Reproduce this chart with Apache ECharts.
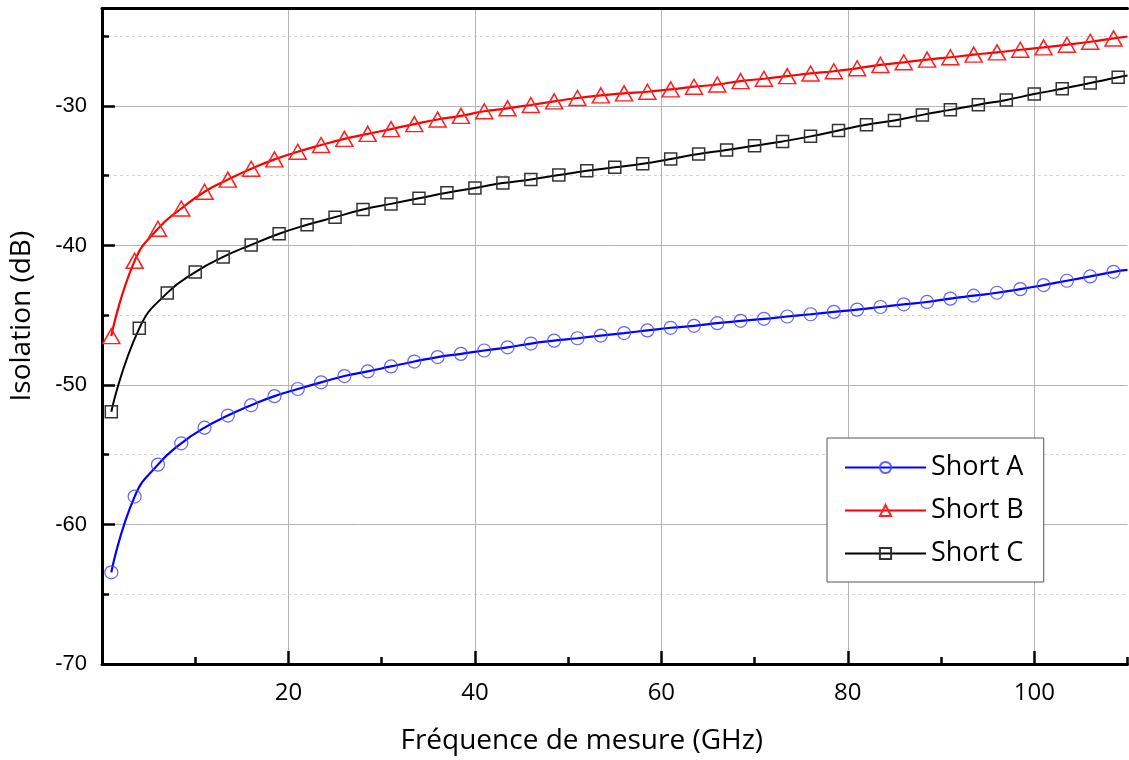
<!DOCTYPE html>
<html>
<head>
<meta charset="utf-8">
<script src="https://cdn.jsdelivr.net/npm/echarts@6/dist/echarts.min.js"></script>
<style>
html,body{margin:0;padding:0;background:#fff;}
#chart{width:1129px;height:760px;}
</style>
</head>
<body>
<div id="chart"></div>
<script>
// Frequencies (GHz) of markers for Short A and Short B
const freqAB = [1, 3.5, 6, 8.5, 11, 13.5, 16, 18.5, 21, 23.5, 26, 28.5, 31, 33.5, 36, 38.5, 41, 43.5, 46, 48.5, 51, 53.5, 56, 58.5, 61, 63.5, 66, 68.5, 71, 73.5, 76, 78.5, 81, 83.5, 86, 88.5, 91, 93.5, 96, 98.5, 101, 103.5, 106, 108.5];
// Frequencies (GHz) of markers for Short C
const freqC = [1, 4, 7, 10, 13, 16, 19, 22, 25, 28, 31, 34, 37, 40, 43, 46, 49, 52, 55, 58, 61, 64, 67, 70, 73, 76, 79, 82, 85, 88, 91, 94, 97, 100, 103, 106, 109];

const shortA = [-63.43, -58.0, -55.71, -54.18, -53.06, -52.19, -51.45, -50.80, -50.29, -49.81, -49.36, -49.03, -48.67, -48.32, -48.0, -47.77, -47.53, -47.30, -47.03, -46.82, -46.65, -46.46, -46.28, -46.09, -45.90, -45.76, -45.57, -45.40, -45.26, -45.09, -44.93, -44.76, -44.60, -44.41, -44.22, -44.05, -43.81, -43.60, -43.39, -43.13, -42.84, -42.53, -42.22, -41.89];
const shortB = [-46.5, -41.1, -38.8, -37.35, -36.15, -35.28, -34.5, -33.83, -33.28, -32.8, -32.36, -32.0, -31.66, -31.30, -30.97, -30.71, -30.38, -30.17, -29.93, -29.67, -29.43, -29.24, -29.1, -28.98, -28.81, -28.62, -28.46, -28.22, -28.05, -27.86, -27.67, -27.51, -27.3, -27.06, -26.87, -26.68, -26.51, -26.32, -26.16, -25.97, -25.80, -25.61, -25.40, -25.16];
const shortC = [-51.92, -45.94, -43.40, -41.91, -40.82, -39.96, -39.16, -38.52, -37.97, -37.42, -37.02, -36.62, -36.22, -35.88, -35.53, -35.27, -34.95, -34.65, -34.4, -34.15, -33.80, -33.44, -33.16, -32.85, -32.54, -32.18, -31.76, -31.34, -31.04, -30.64, -30.28, -29.91, -29.57, -29.15, -28.77, -28.36, -27.94];

// Curve end values at the right edge of the plot (110 GHz), no marker
const endFreq = 110;
const endA = -41.75;
const endB = -25.02;
const endC = -27.82;

const seriesNames = ['Short A', 'Short B', 'Short C'];
const xTickLabels = [20, 40, 60, 80, 100];
const yTickLabels = [-70, -60, -50, -40, -30];

function build(freqs, vals, endVal) {
  const d = freqs.map((f, i) => [f, vals[i]]);
  d.push({ value: [endFreq, endVal], symbol: 'none' });
  return d;
}

const chart = echarts.init(document.getElementById('chart'), null, { renderer: 'canvas' });
const uiFont = '"Open Sans", "Noto Sans", sans-serif';

chart.setOption({
  animation: false,
  backgroundColor: '#ffffff',
  grid: { left: 102, right: 1.5, top: 8.3, bottom: 90.7, containLabel: false },
  legend: {
    data: seriesNames,
    orient: 'vertical',
    left: 827,
    top: 438,
    padding: [16, 20, 15, 17],
    itemGap: 16,
    itemWidth: 81,
    itemHeight: 14,
    backgroundColor: '#ffffff',
    borderColor: '#555555',
    borderWidth: 1,
    borderRadius: 0,
    textStyle: { fontFamily: uiFont, fontSize: 27, color: '#000' }
  },
  xAxis: [
    {
      type: 'value', min: 0, max: 110, interval: 10, position: 'bottom',
      axisLine: { show: true, onZero: false, lineStyle: { color: '#000', width: 3 } },
      axisTick: { show: true, inside: true, length: 7, lineStyle: { color: '#000', width: 2.5 } },
      axisLabel: { show: false },
      splitLine: { show: true, lineStyle: { color: ['#b4b4b4', 'rgba(0,0,0,0)'], width: 1 } }
    },
    {
      type: 'value', min: 0, max: 110, interval: 20, position: 'bottom',
      axisLine: { show: false, onZero: false },
      axisTick: { show: true, inside: true, length: 13, customValues: xTickLabels, lineStyle: { color: '#000', width: 2.5 } },
      axisLabel: { show: true, customValues: xTickLabels, margin: 17, fontFamily: uiFont, fontSize: 24, color: '#000' },
      splitLine: { show: false },
      name: 'Fréquence de mesure (GHz)',
      nameLocation: 'middle',
      nameGap: 63,
      nameTextStyle: { fontFamily: uiFont, fontSize: 28, color: '#000', padding: [0, 66, 0, 0] }
    },
    {
      type: 'value', min: 0, max: 110, position: 'top',
      axisLine: { show: true, onZero: false, lineStyle: { color: '#000', width: 3 } },
      axisTick: { show: false }, axisLabel: { show: false }, splitLine: { show: false }
    }
  ],
  yAxis: [
    {
      type: 'value', min: -70, max: -23, interval: 5, position: 'left',
      axisLine: { show: true, onZero: false, lineStyle: { color: '#000', width: 3 } },
      axisTick: { show: true, inside: true, length: 7, lineStyle: { color: '#000', width: 2.5 } },
      axisLabel: { show: false },
      splitLine: { show: true, lineStyle: { color: '#d4d4d4', width: 1, type: [3, 3] } }
    },
    {
      type: 'value', min: -70, max: -23, interval: 10, position: 'left',
      axisLine: { show: false, onZero: false },
      axisTick: { show: true, inside: true, length: 13, customValues: yTickLabels, lineStyle: { color: '#000', width: 2.5 } },
      axisLabel: { show: true, customValues: yTickLabels, margin: 15, fontFamily: '"Liberation Sans", Arial, sans-serif', fontSize: 22, color: '#000' },
      splitLine: { show: true, lineStyle: { color: '#b4b4b4', width: 1 } },
      name: 'Isolation (dB)',
      nameLocation: 'middle',
      nameGap: 66,
      nameRotate: 90,
      nameTextStyle: { fontFamily: uiFont, fontSize: 28, color: '#000', padding: [0, 0, 0, 40] }
    }
  ],
  series: [
    {
      name: 'Short A', type: 'line', xAxisIndex: 0, yAxisIndex: 0,
      data: build(freqAB, shortA, endA),
      smooth: 0.5,
      symbol: 'circle', symbolSize: 13,
      lineStyle: { color: '#0000ff', width: 2.2 },
      itemStyle: { color: 'rgba(255,255,255,0)', borderColor: 'rgba(70,70,255,0.85)', borderWidth: 1.2 },
      z: 3
    },
    {
      name: 'Short B', type: 'line', xAxisIndex: 0, yAxisIndex: 0,
      data: build(freqAB, shortB, endB),
      smooth: 0.5,
      symbol: 'triangle', symbolSize: [17, 15],
      lineStyle: { color: '#ff0000', width: 2.2 },
      itemStyle: { color: 'rgba(255,255,255,0)', borderColor: '#ff2020', borderWidth: 1.5 },
      z: 3
    },
    {
      name: 'Short C', type: 'line', xAxisIndex: 0, yAxisIndex: 0,
      data: build(freqC, shortC, endC),
      smooth: 0.5,
      symbol: 'rect', symbolSize: 12,
      lineStyle: { color: '#000000', width: 2 },
      itemStyle: { color: 'rgba(255,255,255,0)', borderColor: '#333333', borderWidth: 1.5 },
      z: 3
    }
  ]
});
</script>
</body>
</html>
